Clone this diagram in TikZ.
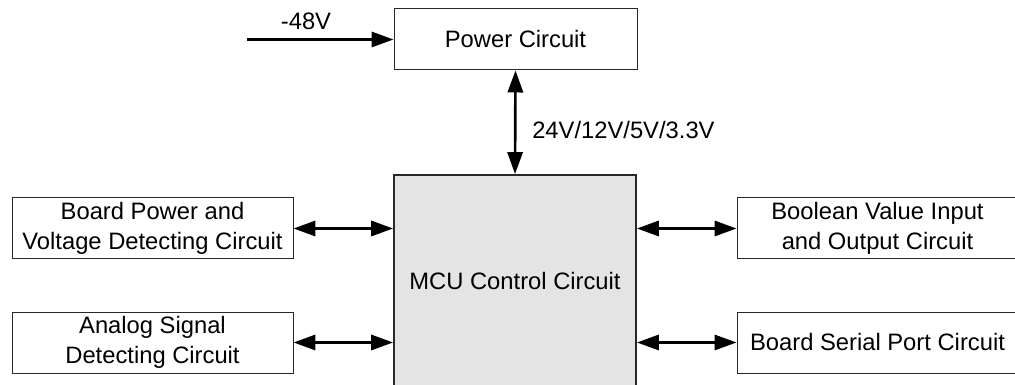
\documentclass[tikz,border=0pt]{standalone}
\usepackage{fontspec}
\setmainfont{Liberation Sans}
\usepackage{xcolor}
\usepackage{tikz}
\usetikzlibrary{
  arrows.meta,
  positioning
}
\definecolor{McuGray}{RGB}{228, 228, 228}
\definecolor{EdgeGray}{RGB}{40, 40, 40}

\begin{document}
\begin{tikzpicture}[
    font=\fontsize{16.9}{21.3}\selectfont,
    block/.style={rectangle, draw=EdgeGray, line width=0.7pt, fill=white, align=center, inner sep=0pt, minimum width=7.025cm, minimum height=1.525cm},
    link/.style={line width=1.9pt, -{Triangle[length=0.55cm, width=0.38cm]}},
    biLink/.style={line width=1.9pt, {Triangle[length=0.55cm, width=0.38cm]}-{Triangle[length=0.55cm, width=0.38cm]}}
]
    \useasboundingbox (0,0) rectangle (25.375,9.625);

    \node[block, minimum width=6.075cm] (power) at (12.8875,8.6375) {Power Circuit};
    \node[block, fill=McuGray, line width=1.3pt, minimum width=6.05cm, minimum height=5.3cm] (mcu) at (12.875,2.6) {MCU Control Circuit};

    \node[block] (boardPower) at (3.8125,3.9125) {Board Power and\\Voltage Detecting Circuit};
    \node[block] (analog) at (3.8125,1.0625) {Analog Signal\\Detecting Circuit};
    \node[block] (boolean) at (21.9375,3.9125) {Boolean Value Input\\and Output Circuit};
    \node[block] (serial) at (21.9375,1.0625) {Board Serial Port Circuit};

    \coordinate (vin) at (6.175,8.6375);
    \draw[link] (vin) -- (power.west);
    \node (vinLabel) at (7.65,9.1) {-48V};

    \draw[biLink] (power.south) -- (mcu.north);
    \node[anchor=west, inner sep=0pt] (railLabel) at (13.3,6.375) {24V/12V/5V/3.3V};

    \draw[biLink] (boardPower.east) -- (boardPower.east -| mcu.west);
    \draw[biLink] (analog.east) -- (analog.east -| mcu.west);
    \draw[biLink] (mcu.east |- boolean.west) -- (boolean.west);
    \draw[biLink] (mcu.east |- serial.west) -- (serial.west);
\end{tikzpicture}
\end{document}
